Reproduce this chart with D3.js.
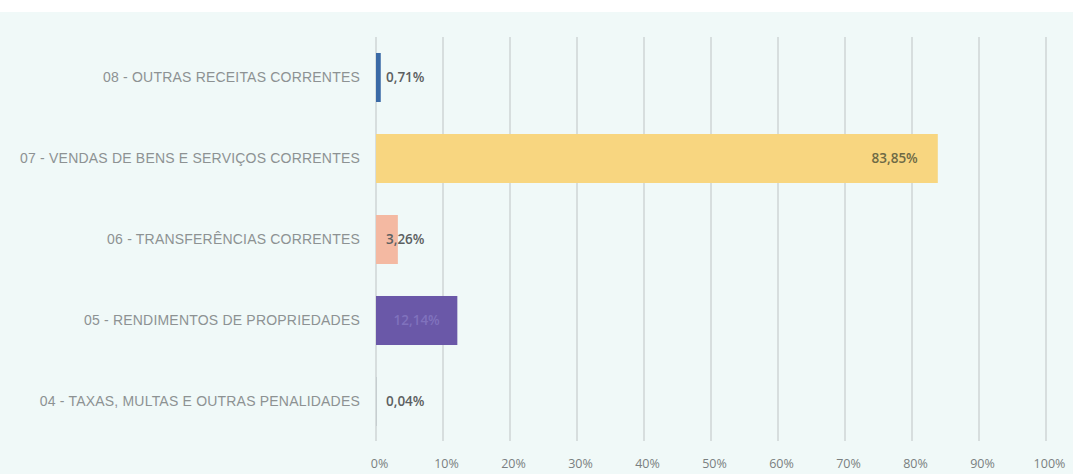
<!DOCTYPE html>
<html><head><meta charset="utf-8">
<script src="https://cdn.jsdelivr.net/npm/d3@7"></script>
<style>html,body{margin:0;padding:0;background:#fff;}svg{display:block;}</style>
</head><body>
<svg id="chart" width="1073" height="474"></svg>
<script>
const categories = [
  "08 - OUTRAS RECEITAS CORRENTES",
  "07 - VENDAS DE BENS E SERVIÇOS CORRENTES",
  "06 - TRANSFERÊNCIAS CORRENTES",
  "05 - RENDIMENTOS DE PROPRIEDADES",
  "04 - TAXAS, MULTAS E OUTRAS PENALIDADES"
];
const values = [0.71, 83.85, 3.26, 12.14, 0.04];
const valueLabels = ["0,71%", "83,85%", "3,26%", "12,14%", "0,04%"];
const ticks = [0,10,20,30,40,50,60,70,80,90,100];
const tickLabels = ["0%","10%","20%","30%","40%","50%","60%","70%","80%","90%","100%"];
const colors = ["#3b6aa6", "#f8d680", "#f4b9a2", "#6a58a8", "#9aa0a8"];

const svg = d3.select("#chart");
svg.append("rect").attr("x",0).attr("y",12).attr("width",1073).attr("height",462).attr("fill","#f0f9f8");

const x = d3.scaleLinear().domain([0,100]).range([376,1046]);
const y = d3.scaleBand().domain(categories).range([37,442]).paddingInner(0.395).paddingOuter(0.1975);

// gridlines
svg.append("g").selectAll("line").data(ticks).join("line")
  .attr("x1",d=>x(d)).attr("x2",d=>x(d)).attr("y1",37).attr("y2",441)
  .attr("stroke","#c9cfcf").attr("stroke-width",1.3);

// x axis labels
const xAxis = d3.axisBottom(x).tickValues(ticks).tickSize(0).tickPadding(0)
  .tickFormat((d,i)=>tickLabels[i]);
const gx = svg.append("g").attr("transform","translate(3,459)").call(xAxis);
gx.select(".domain").remove();
gx.selectAll("text").attr("font-family","Open Sans").attr("font-size",12.5).attr("fill","#7a7f80");

// bars
svg.append("g").selectAll("rect").data(values).join("rect")
  .attr("x",x(0)).attr("y",(d,i)=>y(categories[i]))
  .attr("width",d=>x(d)-x(0)).attr("height",y.bandwidth())
  .attr("fill",(d,i)=>colors[i]);

// category labels
svg.append("g").selectAll("text").data(categories).join("text")
  .attr("x",x(0)-16).attr("y",d=>y(d)+y.bandwidth()/2)
  .attr("dy","0.35em").attr("text-anchor","end")
  .attr("font-family","Liberation Sans").attr("font-size",14)
  .attr("letter-spacing","0.2px")
  .attr("fill","#8d9293").text(d=>d);

// value labels
svg.append("g").selectAll("text").data(values).join("text")
  .attr("x",(d)=> d>50 ? x(d)-20 : d>10 ? (x(0)+x(d))/2 : x(0)+10)
  .attr("text-anchor",d=> d>50 ? "end" : d>10 ? "middle" : "start")
  .attr("y",(d,i)=>y(categories[i])+y.bandwidth()/2).attr("dy","0.35em")
  .attr("font-family","Open Sans").attr("font-size",13.5).attr("font-weight",600)
  .attr("fill",(d)=> d>50 ? "#6e6a45" : d>10 ? "#8072bd" : "#5c6061")
  .text((d,i)=>valueLabels[i]);
</script>
</body></html>
